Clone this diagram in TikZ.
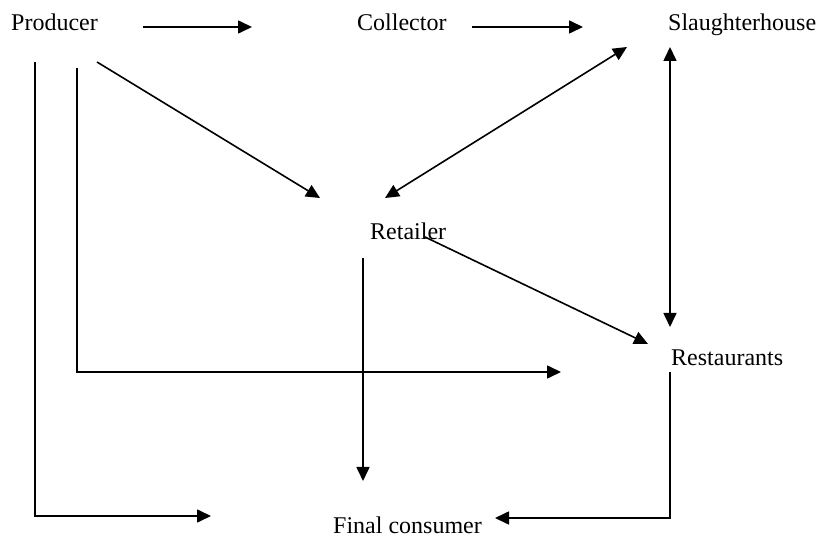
\documentclass[tikz,border=0pt]{standalone}
\usepackage{fontspec}
\setmainfont{Liberation Serif}
\usetikzlibrary{arrows.meta}
\begin{document}
\begin{tikzpicture}[x=1pt,y=-1pt,
  lbl/.style={inner sep=0pt, anchor=base west, font=\fontsize{24}{28}\selectfont},
  arr/.style={line width=1.6pt, -{Triangle[length=14pt,width=13pt]}},
  darr/.style={line width=1.6pt, {Triangle[length=14pt,width=13pt]}-{Triangle[length=14pt,width=13pt]}}]
\useasboundingbox (0,0) rectangle (820,537);
% nodes
\node[lbl] (prod) at (11,31) {Producer};
\node[lbl] (coll) at (357,31) {Collector};
\node[lbl] (slau) at (668,31) {Slaughterhouse};
\node[lbl] (reta) at (370,240) {Retailer};
\node[lbl] (rest) at (671,366) {Restaurants};
\node[lbl] (fina) at (333,533) {Final consumer};
% connector ends
\coordinate (p1s) at (143,27);  \coordinate (p1e) at (252,27);
\coordinate (c1s) at (472,27);  \coordinate (c1e) at (583,27);
\coordinate (pds) at (97,62);   \coordinate (pde) at (320,198);
\coordinate (rss) at (385,198); \coordinate (rse) at (627,47);
\coordinate (sus) at (670,47);  \coordinate (sue) at (670,327);
\coordinate (rrs) at (425,237); \coordinate (rre) at (648,344);
\coordinate (rfs) at (363,258); \coordinate (rfe) at (363,481);
\coordinate (prs) at (77,68);   \coordinate (pre) at (561,372);
\coordinate (pfs) at (35,62);   \coordinate (pfe) at (211,516);
\coordinate (ffs) at (670,372); \coordinate (ffe) at (495,518);
% connectors
\draw[arr] (p1s) -- (p1e);
\draw[arr] (c1s) -- (c1e);
\draw[arr] (pds) -- (pde);
\draw[darr] (rss) -- (rse);
\draw[darr] (sus) -- (sue);
\draw[arr] (rrs) -- (rre);
\draw[arr] (rfs) -- (rfe);
\draw[arr] (prs) |- (pre);
\draw[arr] (pfs) |- (pfe);
\draw[arr] (ffs) |- (ffe);
\end{tikzpicture}
\end{document}
